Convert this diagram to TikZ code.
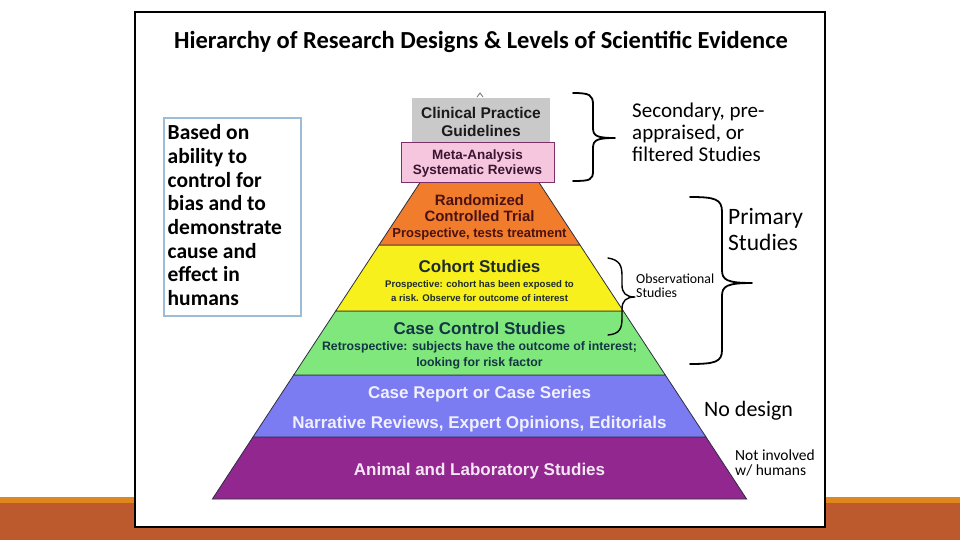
\documentclass[tikz,border=0pt]{standalone}
\usepackage{fontspec}
\setmainfont{Carlito}
\newfontfamily\arb{Liberation Sans}
\definecolor{bandlight}{HTML}{E0861F}
\definecolor{banddark}{HTML}{BC5A2D}
\definecolor{boxblue}{HTML}{9DBCD8}
\definecolor{cgray}{HTML}{C9C9C9}
\definecolor{cpink}{HTML}{F6C6DF}
\definecolor{cpinkb}{HTML}{7D2F6A}
\definecolor{corange}{HTML}{F07C2C}
\definecolor{cyellow}{HTML}{F7F01C}
\definecolor{cgreen}{HTML}{80E77D}
\definecolor{cblue}{HTML}{7C7CF2}
\definecolor{cpurple}{HTML}{92278F}
\definecolor{tgray}{HTML}{1A1A1A}
\definecolor{tpink}{HTML}{3B1530}
\definecolor{torange}{HTML}{4A1212}
\definecolor{tyellow}{HTML}{1E2B2E}
\definecolor{tgreen}{HTML}{133545}
\definecolor{tblue}{HTML}{F0F0FF}
\definecolor{tpurple}{HTML}{F5E6F5}
\definecolor{edge}{HTML}{2E2E40}
\begin{document}
\begin{tikzpicture}[x=1pt,y=-1pt,
  lvl/.style={draw=edge, line width=0.8pt},
  plab/.style={anchor=base, inner sep=0},
  big/.style={font=\arb\bfseries\fontsize{17}{20}\selectfont},
  lboxtxt/.style={anchor=base west, inner sep=0, font=\bfseries\fontsize{21.5}{23.6}\selectfont},
  note/.style={anchor=base west, inner sep=0},
  bracepath/.style={line width=1.8pt, line cap=round, line join=round}]
\useasboundingbox (0,0) rectangle (960,540);
% slide background
\fill[white] (0,0) rectangle (960,540);
\fill[bandlight] (0,497) rectangle (960,503);
\fill[banddark] (0,503) rectangle (960,540);
% picture frame
\draw[line width=2pt, fill=white] (135,12) rectangle (825,527);
% title
\node[anchor=base, inner sep=0, font=\bfseries\fontsize{24.5}{28}\selectfont] (title) at (481,49)
  {Hierarchy of Research Designs \& Levels of Scientific Evidence};
% left box
\node[draw=boxblue, line width=1.6pt, minimum width=137pt, minimum height=198pt, anchor=north west, inner sep=0] (lbox) at (163,117) {};
\foreach \t [count=\i] in {Based on,ability to,control for,bias and to,demonstrate,cause and,effect in,humans}
  \node[lboxtxt] (lb\i) at (167.5,{140+23.6*(\i-1)}) {\t};
% pyramid bands
\filldraw[lvl, fill=cpurple] (253,437) -- (706,437) -- (746.6,499) -- (212.4,499) -- cycle;
\filldraw[lvl, fill=cblue] (293.7,375) -- (665.3,375) -- (706,437) -- (253,437) -- cycle;
\filldraw[lvl, fill=cgreen] (335.7,311) -- (623.3,311) -- (665.3,375) -- (293.7,375) -- cycle;
\filldraw[lvl, fill=cyellow] (379,245) -- (580,245) -- (623.3,311) -- (335.7,311) -- cycle;
\filldraw[lvl, fill=corange] (421,181) -- (538,181) -- (580,245) -- (379,245) -- cycle;
% top boxes
\node[fill=cgray, minimum width=138pt, minimum height=44pt, anchor=north west, inner sep=0] (cpg) at (412,98) {};
\node[fill=cpink, draw=cpinkb, line width=0.8pt, minimum width=153pt, minimum height=40pt, anchor=north west, inner sep=0] (meta) at (401,142) {};
\draw[color=edge!70, line width=0.8pt] (477,97) -- (480,93) -- (483,97);
% pyramid labels
\begin{scope}[every node/.style={plab}]
\node[font=\arb\bfseries\fontsize{15.5}{18}\selectfont, text=tgray] (cpg1) at (481,118.5) {Clinical Practice};
\node[font=\arb\bfseries\fontsize{15.5}{18}\selectfont, text=tgray] (cpg2) at (481,136.5) {Guidelines};
\node[font=\arb\bfseries\fontsize{13.5}{16}\selectfont, text=tpink] (ma1) at (477.5,160) {Meta-Analysis};
\node[font=\arb\bfseries\fontsize{13.5}{16}\selectfont, text=tpink] (ma2) at (477.5,175) {Systematic Reviews};
\node[font=\arb\bfseries\fontsize{15}{18}\selectfont, text=torange] (rct1) at (479.5,205) {Randomized};
\node[font=\arb\bfseries\fontsize{15}{18}\selectfont, text=torange] (rct2) at (479.5,221) {Controlled Trial};
\node[font=\arb\bfseries\fontsize{13}{15}\selectfont, text=torange] (rct3) at (479.5,237) {Prospective, tests treatment};
\node[big, text=tyellow] (coh1) at (479.5,272) {Cohort Studies};
\node[font=\arb\bfseries\fontsize{9.6}{12}\selectfont, text=tyellow] (coh2) at (479.5,287) {Prospective: cohort has been exposed to};
\node[font=\arb\bfseries\fontsize{9.6}{12}\selectfont, text=tyellow] (coh3) at (479.5,301.5) {a risk. Observe for outcome of interest};
\node[big, text=tgreen] (cc1) at (479.5,334) {Case Control Studies};
\node[font=\arb\bfseries\fontsize{12.3}{15}\selectfont, text=tgreen] (cc2) at (479.5,350) {Retrospective: subjects have the outcome of interest;};
\node[font=\arb\bfseries\fontsize{12.3}{15}\selectfont, text=tgreen] (cc3) at (479.5,366) {looking for risk factor};
\node[big, text=tblue] (cr1) at (479.5,398) {Case Report or Case Series};
\node[big, text=tblue] (cr2) at (479.5,428) {Narrative Reviews, Expert Opinions, Editorials};
\node[big, text=tpurple] (an1) at (479.5,475) {Animal and Laboratory Studies};
\end{scope}
% braces
\draw[bracepath] (573,93) .. controls (590,93) and (593,95) .. (593,105) -- (593,128)
  .. controls (593,136) and (597,138) .. (615,138)
  .. controls (597,138) and (593,140) .. (593,148) -- (593,171)
  .. controls (593,180) and (590,181) .. (573,181);
\draw[bracepath] (690,197) .. controls (715,197) and (722,199) .. (722,212) -- (722,270)
  .. controls (722,280) and (727,283) .. (752,283)
  .. controls (727,283) and (722,286) .. (722,296) -- (722,350)
  .. controls (722,362) and (715,364) .. (690,364);
\draw[line width=1.4pt, line cap=round, line join=round] (608,258) .. controls (620,260) and (622,266) .. (622,276) -- (622,285)
  .. controls (622,293) and (626,297) .. (635,297)
  .. controls (626,297) and (622,301) .. (622,309) -- (622,318)
  .. controls (622,328) and (620,334) .. (608,335);
% right annotations
\begin{scope}[every node/.style={note}]
\node[font=\fontsize{21}{22}\selectfont] (sec1) at (632,118) {Secondary, pre-};
\node[font=\fontsize{21}{22}\selectfont] (sec2) at (632,140) {appraised, or};
\node[font=\fontsize{21}{22}\selectfont] (sec3) at (632,162) {filtered Studies};
\node[font=\fontsize{23.5}{26}\selectfont] (pri1) at (728,224) {Primary};
\node[font=\fontsize{23.5}{26}\selectfont] (pri2) at (728,250) {Studies};
\node[font=\fontsize{13.8}{14.5}\selectfont] (obs1) at (636,283) {Observational};
\node[font=\fontsize{13.8}{14.5}\selectfont] (obs2) at (636,297.5) {Studies};
\node[font=\fontsize{22}{24}\selectfont] (nod) at (704,416) {No design};
\node[font=\fontsize{15.5}{16}\selectfont] (ni1) at (735,460) {Not involved};
\node[font=\fontsize{15.5}{16}\selectfont] (ni2) at (735,475) {w/ humans};
\end{scope}
\end{tikzpicture}
\end{document}
